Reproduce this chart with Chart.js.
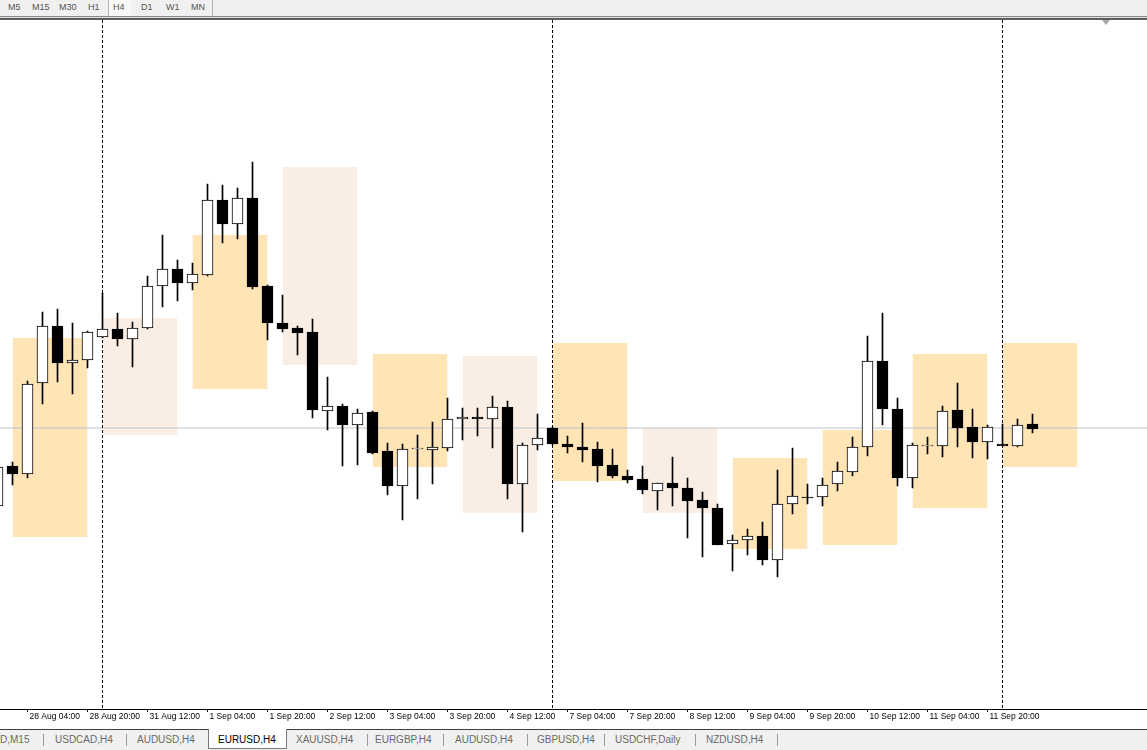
<!DOCTYPE html>
<html lang="en">
<head>
<meta charset="UTF-8">
<title>EURUSD,H4</title>
<script src="https://cdn.jsdelivr.net/npm/chart.js"></script>
<style>
  body { margin:0; width:1147px; height:750px; overflow:hidden; background:#f0f0f0; position:relative; font-family:'Liberation Sans', Arial, sans-serif; }
  #toolbar { position:absolute; left:0; top:0; width:1147px; height:16px; background:#f0f0f0; }
  #toolbar span { position:absolute; top:2px; font-size:9px; color:#555; line-height:10px; }
  #toolbar .sep { position:absolute; top:0; width:1px; height:16px; background:#b4b4b4; }
  #toolbar .on { position:absolute; left:109px; top:0; width:22px; height:16px; background:#f8f8f8; }
  .hl { position:absolute; left:0; width:1147px; }
  #chartbox { position:absolute; left:0; top:20px; width:1147px; height:709px; overflow:hidden; background:#fff; }
  #c { position:absolute; left:-3px; top:0; }
  #shift { position:absolute; left:1102px; top:20px; width:0; height:0; border-left:4px solid transparent; border-right:4px solid transparent; border-top:5px solid #a8a8a8; }
  #tabs { position:absolute; left:0; top:730px; width:1147px; height:20px; background:#f0f0f0; }
  #tabs span { position:absolute; top:4px; font-size:10px; color:#6a6a6a; line-height:12px; white-space:nowrap; }
  #tabs .bar { position:absolute; top:4px; width:1px; height:12px; background:#9a9a9a; }
  #tabs .active { position:absolute; left:208px; top:-1px; width:77px; height:19px; background:#fff; border:1px solid #7a7a7a; border-top:none; }
</style>
</head>
<body>
<div id="toolbar">
  <div class="on"></div>
  <span style="left:8px">M5</span>
  <span style="left:32px">M15</span>
  <span style="left:59px">M30</span>
  <span style="left:88px">H1</span>
  <div class="sep" style="left:108px"></div>
  <span style="left:113px">H4</span>
  <span style="left:141px">D1</span>
  <span style="left:166px">W1</span>
  <span style="left:191px">MN</span>
  <div class="sep" style="left:212px"></div>
</div>
<div class="hl" style="top:16px;height:1px;background:#8c8c8c"></div>
<div class="hl" style="top:17px;height:1px;background:#dcdcdc"></div>
<div class="hl" style="top:18px;height:2px;background:#5e5e5e"></div>
<div id="chartbox">
  <canvas id="c" width="1201" height="709"></canvas>
</div>
<div id="shift"></div>
<div class="hl" style="top:729px;height:1px;background:#404040"></div>
<div id="tabs">
  <div class="active"></div>
  <span style="left:0px">D,M15</span>
  <div class="bar" style="left:43px"></div>
  <span style="left:55px">USDCAD,H4</span>
  <div class="bar" style="left:126px"></div>
  <span style="left:137px">AUDUSD,H4</span>
  <span style="left:218px;color:#000">EURUSD,H4</span>
  <span style="left:296px">XAUUSD,H4</span>
  <div class="bar" style="left:367px"></div>
  <span style="left:375px">EURGBP,H4</span>
  <div class="bar" style="left:443px"></div>
  <span style="left:455px">AUDUSD,H4</span>
  <div class="bar" style="left:527px"></div>
  <span style="left:537px">GBPUSD,H4</span>
  <div class="bar" style="left:604px"></div>
  <span style="left:615px">USDCHF,Daily</span>
  <div class="bar" style="left:695px"></div>
  <span style="left:706px">NZDUSD,H4</span>
  <div class="bar" style="left:777px"></div>
</div>
<script>
// time slots (H4), the chart keeps some empty slots on the right
const days = ['28 Aug','31 Aug','1 Sep','2 Sep','3 Sep','4 Sep','7 Sep','8 Sep','9 Sep','10 Sep','11 Sep','14 Sep','15 Sep','16 Sep'];
const hours = ['00:00','04:00','08:00','12:00','16:00','20:00'];
const labels = ['27 Aug 20:00'].concat(days.flatMap(d => hours.map(h => d + ' ' + h))).slice(0, 81);

const axisTicks = ['28 Aug 04:00','28 Aug 20:00','31 Aug 12:00','1 Sep 04:00','1 Sep 20:00','2 Sep 12:00',
  '3 Sep 04:00','3 Sep 20:00','4 Sep 12:00','7 Sep 04:00','7 Sep 20:00','8 Sep 12:00','9 Sep 04:00',
  '9 Sep 20:00','10 Sep 12:00','11 Sep 04:00','11 Sep 20:00'];

// EURUSD H4 candles
const opens = [1.18110,1.18310,1.18270,1.18725,1.19010,1.18825,1.18840,1.18955,1.18995,1.18945,
  1.19000,1.19210,1.19295,1.19225,1.19265,1.19640,1.19520,1.19650,1.19210,1.19025,
  1.19000,1.18980,1.18585,1.18610,1.18515,1.18580,1.18385,1.18210,1.18395,1.18390,
  1.18400,1.18545,1.18555,1.18545,1.18605,1.18220,1.18415,1.18500,1.18420,1.18405,
  1.18395,1.18315,1.18260,1.18245,1.18185,1.18225,1.18200,1.18140,1.18100,1.17920,
  1.17940,1.17960,1.17840,1.18120,1.18155,1.18155,1.18220,1.18280,1.18405,1.18835,
  1.18595,1.18250,1.18410,1.18410,1.18590,1.18505,1.18430,1.18420,1.18410,1.18520];
const highs = [1.18315,1.18330,1.18735,1.19080,1.19095,1.19025,1.18985,1.19175,1.19075,1.19030,
  1.19260,1.19465,1.19340,1.19325,1.19720,1.19715,1.19700,1.19830,1.19215,1.19165,
  1.19010,1.19045,1.18755,1.18620,1.18595,1.18585,1.18425,1.18420,1.18465,1.18530,
  1.18650,1.18600,1.18600,1.18660,1.18635,1.18425,1.18570,1.18505,1.18460,1.18525,
  1.18430,1.18395,1.18290,1.18310,1.18225,1.18355,1.18250,1.18180,1.18120,1.17965,
  1.17995,1.18030,1.18290,1.18400,1.18220,1.18250,1.18330,1.18455,1.18960,1.19075,
  1.18650,1.18425,1.18455,1.18610,1.18725,1.18595,1.18515,1.18520,1.18545,1.18570];
const lows = [1.18100,1.18215,1.18250,1.18620,1.18730,1.18670,1.18800,1.18950,1.18910,1.18805,
  1.18995,1.19105,1.19135,1.19190,1.19260,1.19425,1.19445,1.19195,1.18940,1.18980,
  1.18865,1.18550,1.18490,1.18310,1.18315,1.18370,1.18165,1.18040,1.18145,1.18220,
  1.18385,1.18440,1.18460,1.18400,1.18145,1.17980,1.18390,1.18415,1.18375,1.18330,
  1.18230,1.18250,1.18225,1.18170,1.18090,1.18110,1.17950,1.17855,1.17915,1.17785,
  1.17865,1.17815,1.17755,1.18070,1.18120,1.18110,1.18185,1.18260,1.18360,1.18515,
  1.18210,1.18200,1.18370,1.18355,1.18405,1.18350,1.18345,1.18410,1.18405,1.18475];
const closes = [1.18305,1.18270,1.18720,1.19010,1.18825,1.18840,1.18980,1.18995,1.18945,1.19000,
  1.19210,1.19295,1.19225,1.19270,1.19640,1.19520,1.19650,1.19205,1.19025,1.18995,
  1.18975,1.18590,1.18610,1.18515,1.18575,1.18375,1.18210,1.18395,1.18395,1.18405,
  1.18545,1.18555,1.18545,1.18605,1.18220,1.18415,1.18450,1.18420,1.18405,1.18390,
  1.18310,1.18260,1.18240,1.18190,1.18225,1.18200,1.18135,1.18100,1.17915,1.17940,
  1.17960,1.17840,1.18120,1.18160,1.18150,1.18215,1.18285,1.18405,1.18835,1.18595,
  1.18250,1.18415,1.18410,1.18585,1.18500,1.18430,1.18505,1.18410,1.18515,1.18495];

// daily zones (rectangles)
const boxFrom = ['28 Aug 00:00','31 Aug 00:00','1 Sep 00:00','2 Sep 00:00','3 Sep 00:00','4 Sep 00:00',
  '7 Sep 00:00','8 Sep 00:00','9 Sep 00:00','10 Sep 00:00','11 Sep 00:00','14 Sep 00:00'];
const boxTo = ['28 Aug 20:00','31 Aug 20:00','1 Sep 20:00','2 Sep 20:00','3 Sep 20:00','4 Sep 20:00',
  '7 Sep 20:00','8 Sep 20:00','9 Sep 20:00','10 Sep 20:00','11 Sep 20:00','14 Sep 20:00'];
const boxTop = [1.18950,1.19050,1.19465,1.19805,1.18870,1.18860,1.18925,1.18500,1.18350,1.18490,1.18870,1.18925];
const boxBottom = [1.17955,1.18465,1.18695,1.18815,1.18305,1.18075,1.18235,1.18075,1.17895,1.17915,1.18100,1.18305];
const boxKind = ['strong','weak','strong','weak','strong','weak','strong','weak','strong','strong','strong','strong'];

const priceLine = 1.18500;
const weekStarts = ['31 Aug 00:00','7 Sep 00:00','14 Sep 00:00'];

const yMin = 1.17095, yMax = 1.20540;

const datasets = [];
boxFrom.forEach((f, i) => {
  datasets.push({
    type: 'line',
    data: [{x: f, y: boxTop[i]}, {x: boxTo[i], y: boxTop[i]}],
    borderWidth: 0,
    pointRadius: 0,
    fill: {target: {value: boxBottom[i]}},
    backgroundColor: boxKind[i] == 'strong' ? '#ffe4b5' : '#faeee4',
    order: 10
  });
});
datasets.push({
  type: 'line',
  data: [{x: labels[0], y: priceLine}, {x: labels[labels.length - 1], y: priceLine}],
  borderColor: '#bcc3cc',
  borderWidth: 1,
  pointRadius: 0,
  order: 8
});
weekStarts.forEach(w => {
  datasets.push({
    type: 'line',
    data: [{x: w, y: yMax}, {x: w, y: yMin}],
    borderColor: '#000',
    borderWidth: 1,
    borderDash: [3, 2],
    pointRadius: 0,
    order: 6
  });
});
// wicks
datasets.push({
  type: 'bar',
  data: lows.map((l, i) => [l, highs[i]]),
  backgroundColor: '#000',
  barThickness: 1,
  grouped: false,
  order: 2
});
// bodies
datasets.push({
  type: 'bar',
  data: opens.map((o, i) => [o, closes[i]]),
  backgroundColor: opens.map((o, i) => closes[i] >= o ? '#fff' : '#000'),
  borderColor: '#000',
  borderWidth: 1,
  borderSkipped: false,
  barThickness: 11,
  minBarLength: 1,
  grouped: false,
  order: 1
});

const chart = new Chart(document.getElementById('c'), {
  type: 'bar',
  data: { labels: labels, datasets: datasets },
  options: {
    responsive: false,
    animation: false,
    events: [],
    layout: { padding: { left: 0.5, right: 0.5, top: 0, bottom: 0 } },
    plugins: { legend: { display: false }, tooltip: { enabled: false } },
    scales: {
      x: {
        type: 'category',
        offset: false,
        grid: { offset: false, drawOnChartArea: false, drawTicks: true, tickLength: 3, color: '#000', tickColor: '#000' },
        border: { display: true, color: '#000', width: 1 },
        ticks: {
          autoSkip: false,
          maxRotation: 0,
          minRotation: 0,
          align: 'start',
          padding: 0,
          labelOffset: 2,
          color: '#000',
          font: { family: 'Liberation Sans', size: 8.5 },
          callback: (v, i) => axisTicks.includes(labels[i]) ? labels[i] : null
        },
        afterFit: s => { s.height = 20; }
      },
      y: { display: false, min: yMin, max: yMax }
    }
  }
});
</script>
</body>
</html>
